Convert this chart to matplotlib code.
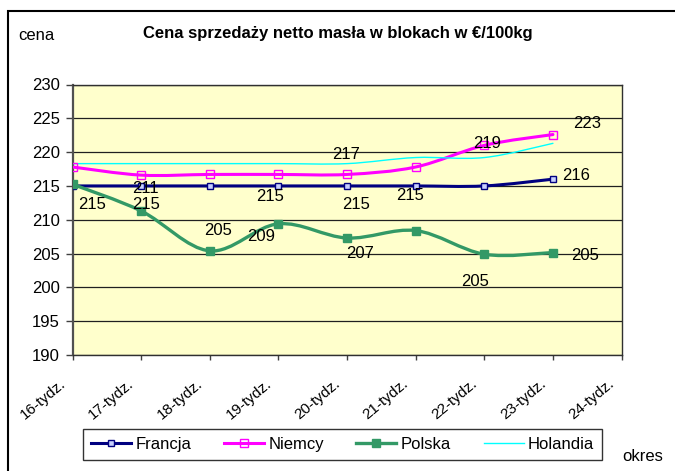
import matplotlib
matplotlib.use("Agg")
import matplotlib.pyplot as plt
from matplotlib.path import Path
from matplotlib.patches import PathPatch, Rectangle
from matplotlib.lines import Line2D
from matplotlib.transforms import ScaledTranslation

plt.rcParams['font.family'] = ['Liberation Sans', 'DejaVu Sans']

# chart data
weeks = ['16-tydz.', '17-tydz.', '18-tydz.', '19-tydz.', '20-tydz.',
         '21-tydz.', '22-tydz.', '23-tydz.', '24-tydz.']
francja = [215, 215, 215, 215, 215, 215, 215, 216]
niemcy = [217.8, 216.6, 216.7, 216.7, 216.7, 217.8, 221.0, 222.6]
polska = [215.25, 211.3, 205.4, 209.4, 207.3, 208.4, 204.9, 205.15]
holandia = [218.3, 218.3, 218.3, 218.3, 218.3, 219.2, 219.2, 221.3]

# data labels: series, point index, text, offset in pixels (right, down)
labels = [
    ('Francja', 0, '215', 20, 19),
    ('Polska', 1, '211', 4, -22),
    ('Francja', 1, '215', 5, 19),
    ('Polska', 2, '205', 8, -20),
    ('Polska', 3, '209', -17, 13),
    ('Francja', 3, '215', -8, 11),
    ('Holandia', 4, '217', -1, -9),
    ('Francja', 4, '215', 9, 19),
    ('Polska', 4, '207', 13, 15),
    ('Francja', 5, '215', -6, 10),
    ('Niemcy', 6, '219', 3, -2),
    ('Polska', 6, '205', -9, 27),
    ('Niemcy', 7, '223', 34, -11),
    ('Francja', 7, '216', 23, -4),
    ('Polska', 7, '205', 32, 3),
]

series = {
    'Francja': dict(y=francja, color='#000080', lw=2.2, marker='s', ms=3.8,
                    mfc='#c8d0ff', mec='#000080', mew=1.0),
    'Niemcy': dict(y=niemcy, color='#ff00ff', lw=2.2, marker='s', ms=6.0,
                   mfc='none', mec='#ff00ff', mew=1.0),
    'Polska': dict(y=polska, color='#339966', lw=2.4, marker='s', ms=6.0,
                   mfc='#339966', mec='#339966', mew=1.0),
    'Holandia': dict(y=holandia, color='#00ffff', lw=1.0, marker=None, ms=0,
                     mfc='none', mec='none', mew=0),
}


def smooth_path(xs, ys):
    """Excel-like smoothed line as a bezier path through the points."""
    pts = list(zip(xs, ys))
    verts = [pts[0]]
    codes = [Path.MOVETO]
    n = len(pts)
    for i in range(n - 1):
        p0 = pts[i - 1] if i > 0 else pts[i]
        p1 = pts[i]
        p2 = pts[i + 1]
        p3 = pts[i + 2] if i + 2 < n else pts[i + 1]
        c1 = (p1[0] + (p2[0] - p0[0]) / 6, p1[1] + (p2[1] - p0[1]) / 6)
        c2 = (p2[0] - (p3[0] - p1[0]) / 6, p2[1] - (p3[1] - p1[1]) / 6)
        verts += [c1, c2, p2]
        codes += [Path.CURVE4] * 3
    return Path(verts, codes)


W, H = 675, 471
fig = plt.figure(figsize=(W / 100, H / 100), dpi=100)
ax = fig.add_axes([72.5 / W, (H - 355) / H, (621.6 - 72.5) / W, (355 - 84.5) / H])
ax.set_facecolor('#ffffcc')

xs = list(range(len(francja)))
handles = []
for name, s in series.items():
    ax.add_patch(PathPatch(smooth_path(xs, s['y']), fill=False,
                           edgecolor=s['color'], lw=s['lw'], zorder=3,
                           capstyle='round', joinstyle='round'))
    if s['marker']:
        ax.plot(xs, s['y'], ls='none', marker=s['marker'], ms=s['ms'],
                mfc=s['mfc'], mec=s['mec'], mew=s['mew'], zorder=4)
    handles.append(Line2D([], [], color=s['color'], lw=s['lw'],
                          marker=s['marker'], ms=s['ms'], mfc=s['mfc'],
                          mec=s['mec'], mew=s['mew'], label=name))

for name, i, txt, dx, dy in labels:
    ax.annotate(txt, (i, series[name]['y'][i]), xytext=(dx, -dy),
                textcoords='offset pixels', ha='center', va='center',
                fontsize=12, zorder=5)

ax.set_xlim(0, 8)
ax.set_ylim(190, 230)
ax.set_yticks(range(190, 231, 5))
ax.set_xticks(range(len(weeks)))
ax.set_xticklabels([])
ax.yaxis.grid(True, color='#202020', lw=0.9)
ax.set_axisbelow(True)
ax.tick_params(axis='y', length=5, width=1, color='#404040', labelsize=12, pad=4)
ax.tick_params(axis='x', length=3.6, width=1, color='#404040')
for side in ['top', 'right', 'bottom']:
    ax.spines[side].set_color('#303030')
    ax.spines[side].set_linewidth(1)
ax.spines['left'].set_color('#505050')
ax.spines['left'].set_linewidth(1.6)

# rotated category labels
for i, w in enumerate(weeks):
    off = ScaledTranslation(-9 / 100, -27 / 100, fig.dpi_scale_trans)
    ax.text(i, 0, w, transform=ax.get_xaxis_transform() + off,
            rotation=40, rotation_mode='anchor', ha='right', va='center',
            fontsize=11)

fig.text(338 / W, 1 - 33.5 / H, 'Cena sprzedaży netto masła w blokach w €/100kg',
         ha='center', va='center', fontsize=12, fontweight='bold')
fig.text(36.7 / W, 1 - 35 / H, 'cena', ha='center', va='center', fontsize=12)
fig.text(642.5 / W, 1 - 456.7 / H, 'okres', ha='center', va='center', fontsize=12)

leg = fig.legend(handles=handles, ncol=4, loc='center', mode='expand',
                 bbox_to_anchor=(83 / W, (H - 461) / H, (602.3 - 83) / W, 33 / H),
                 fontsize=12, frameon=True, fancybox=False, borderpad=0.5,
                 handlelength=2.4, handletextpad=0.25, columnspacing=1.8,
                 borderaxespad=0)
leg.get_frame().set_edgecolor('black')
leg.get_frame().set_linewidth(1)

# outer chart frame (cut at the right and bottom)
fig.patches.append(Rectangle((8.3 / W, -0.1), 2, 1 - 11 / H + 0.1,
                             transform=fig.transFigure, fill=False,
                             edgecolor='black', lw=1.5))

fig.savefig('out.png', dpi=100)
